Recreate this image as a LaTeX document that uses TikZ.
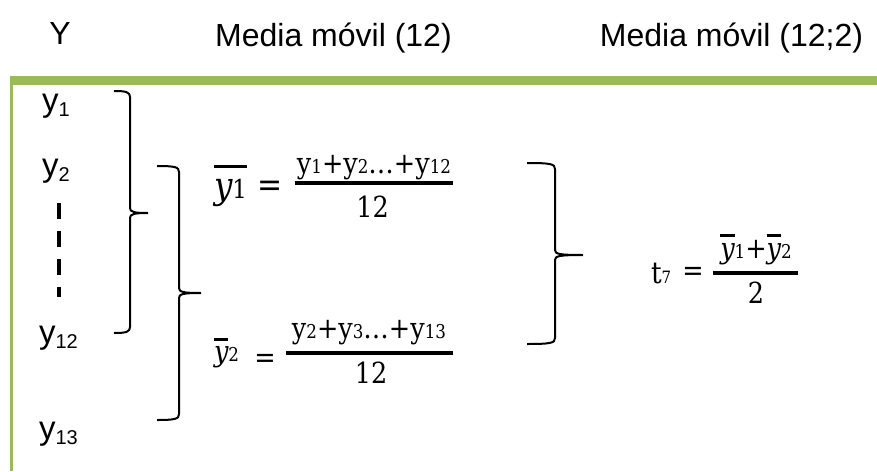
\documentclass[tikz,border=0pt]{standalone}
\usepackage{fontspec}
\newfontfamily\hf{Liberation Sans}
\newfontfamily\ef{DejaVu Serif}[FakeStretch=0.88]
\definecolor{oliveg}{HTML}{9BBB59}
\newcommand{\subsz}[2]{{\fontsize{#1}{#1}\selectfont #2}}
\newcommand{\obar}[2]{\vbox{\hrule height 3pt\kern #1\hbox{#2}}}
\newcommand{\mybrc}[6]{%
  \draw[brc] (#1,#3) .. controls ({#2-4},#3) and (#2,{#3+1}) .. (#2,{#3+6})
    -- (#2,{#4-5}) .. controls (#2,{#4-1}) and ({#2+4},#4) .. (#6,#4)
    .. controls ({#2+4},#4) and (#2,{#4+1}) .. (#2,{#4+5})
    -- (#2,{#5-6}) .. controls (#2,{#5-1}) and ({#2-4},#5) .. (#1,#5);}
\begin{document}
\begin{tikzpicture}[x=1pt,y=-1pt,
  every node/.style={inner sep=0pt,outer sep=0pt},
  head/.style={font=\hf\fontsize{32}{32}\selectfont,anchor=base},
  ylab/.style={font=\hf\fontsize{33}{33}\selectfont,anchor=base west},
  eqtxt/.style={font=\ef\fontsize{29}{29}\selectfont,anchor=base},
  brc/.style={line width=2pt},
  fbar/.style={line width=4pt}]
\useasboundingbox (0,0) rectangle (877,471);
% green frame
\fill[oliveg] (10,76) rectangle (877,85);
\fill[oliveg] (10,76) rectangle (13,471);
% headings
\node[head] (hY) at (60,44) {Y};
\node[head] (hM1) at (333.5,46) {Media móvil (12)};
\node[head] (hM2) at (731.5,46) {Media móvil (12;2)};
% left labels
\node[ylab] (y1) at (42,111) {y\raisebox{-5pt}{\subsz{20}{1}}};
\node[ylab] (y2) at (42,176) {y\raisebox{-5pt}{\subsz{20}{2}}};
\node[ylab] (y12) at (39,343) {y\raisebox{-5pt}{\subsz{20}{12}}};
\node[ylab] (y13) at (39,439) {y\raisebox{-5pt}{\subsz{20}{13}}};
\coordinate (dA) at (59,203);
\coordinate (dB) at (59,297);
\draw[line width=4pt,dash pattern=on 16pt off 12pt] (dA) -- (dB);
% braces
\mybrc{114}{130}{91}{213}{333}{148}
\mybrc{157}{179}{166}{293}{420}{201}
\mybrc{527}{555}{163}{255}{344}{583}
% equation 1
\node[anchor=base west,font=\ef] (e1l) at (214,198)
  {\obar{10.5pt}{\fontsize{37}{37}\selectfont\itshape y\upshape\fontsize{26}{26}\selectfont 1}};
\node[eqtxt,font=\ef\fontsize{34}{34}\selectfont] (e1eq) at (270,196) {=};
\node[eqtxt] (e1n) at (374,173) {y\subsz{19}{1}+y\subsz{19}{2}\ldots+y\subsz{19}{12}};
\draw[fbar] (295,183) -- (453,183);
\node[eqtxt] (e1d) at (372.5,217) {12};
% equation 2
\node[anchor=base west,font=\ef] (e2l) at (214,361.5)
  {\obar{5.5pt}{\fontsize{29}{29}\selectfont\itshape y}\subsz{19}{2}};
\node[eqtxt] (e2eq) at (265,367) {=};
\node[eqtxt] (e2n) at (369,338) {y\subsz{19}{2}+y\subsz{19}{3}\ldots+y\subsz{19}{13}};
\draw[fbar] (286,353) -- (453,353);
\node[eqtxt] (e2d) at (371,383) {12};
% equation 3
\node[eqtxt,anchor=base west,font=\ef\fontsize{30}{30}\selectfont] (e3l) at (651,283) {t\subsz{17}{7}};
\node[eqtxt] (e3eq) at (693,280) {=};
\node[eqtxt] (e3n) at (756,258.5)
  {\obar{6pt}{\itshape y}\subsz{19}{1}+\obar{6pt}{\itshape y}\subsz{19}{2}};
\draw[fbar] (713,273) -- (798,273);
\node[eqtxt] (e3d) at (756,303) {2};
\end{tikzpicture}
\end{document}
